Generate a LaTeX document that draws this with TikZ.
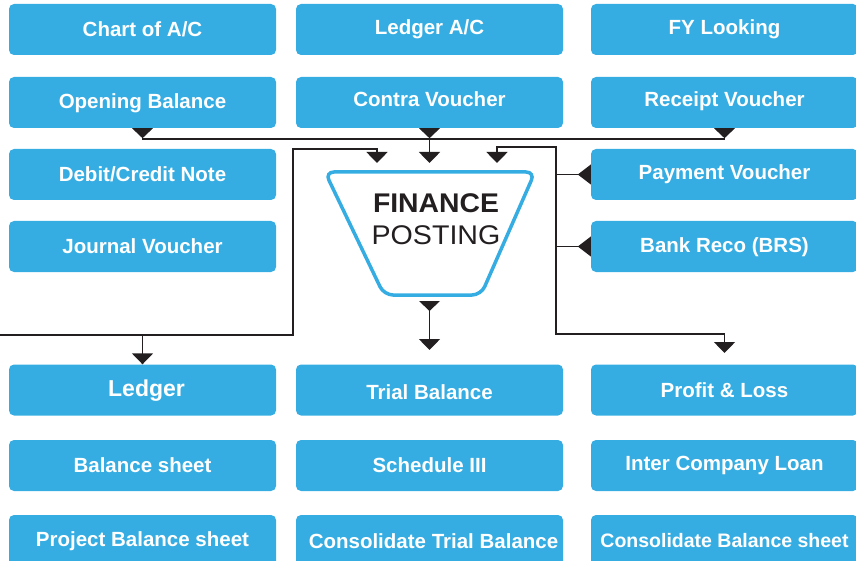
\documentclass[tikz,border=0pt]{standalone}
\usepackage{fontspec}
\setmainfont{Liberation Sans}
\usetikzlibrary{arrows.meta,calc}
\definecolor{boxblue}{RGB}{54,173,226}
\definecolor{linec}{RGB}{35,31,32}
\newcommand\liftby[2]{\raisebox{#1pt}{#2}}
\newcommand\tabdown[1]{\fill[linec] ([xshift=-10.5pt]#1) -- ([xshift=10.5pt]#1) -- ([yshift=-10pt]#1) -- cycle;}
\newcommand\tableft[1]{\fill[linec] ([yshift=10pt]#1) -- ([yshift=-10pt]#1) -- ([xshift=-13pt]#1) -- cycle;}
\begin{document}
\begin{tikzpicture}[x=1pt,y=-1pt,
  box/.style={rectangle, rounded corners=5pt, fill=boxblue, minimum width=267pt,
    minimum height=51pt, inner sep=0pt, text=white,
    font=\bfseries\fontsize{20.5}{24}\selectfont, text height=14.6pt, text depth=0pt},
  conn/.style={draw=linec, line width=1.6pt},
  arr/.style={conn, -{Triangle[width=21pt,length=11pt]}},
  fptext/.style={text=linec, inner sep=0pt, font=\fontsize{27}{30}\selectfont}]
\useasboundingbox (0,0) rectangle (856,561);
% row 1
\node[box] (coa) at (142.5,29.5) {Chart of A/C};
\node[box] (lac) at (429.5,29.5) {\liftby{2}{Ledger A/C}};
\node[box] (fy)  at (724.5,29.5) {\liftby{2}{FY Looking}};
% row 2
\node[box] (ob) at (142.5,102.5) {\liftby{1.5}{Opening Balance}};
\node[box] (cv) at (429.5,102.5) {\liftby{3.5}{Contra Voucher}};
\node[box] (rv) at (724.5,102.5) {\liftby{3}{Receipt Voucher}};
% row 3-4
\node[box] (dcn) at (142.5,174.5) {Debit/Credit Note};
\node[box] (pv)  at (724.5,174.5) {\liftby{2.5}{Payment Voucher}};
\node[box] (jv)  at (142.5,246.5) {Journal Voucher};
\node[box] (br)  at (724.5,246.5) {\liftby{1.5}{Bank Reco (BRS)}};
% row 5
\node[box, font=\bfseries\fontsize{23}{26}\selectfont, text height=16.5pt] (led) at (142.5,390) {\hspace*{8pt}\liftby{2}{Ledger}};
\node[box] (tb) at (429.5,390) {\liftby{-2}{Trial Balance}};
\node[box] (pl) at (724.5,390) {Profit \& Loss};
% row 6
\node[box] (bs)  at (142.5,465.5) {Balance sheet};
\node[box] (s3)  at (429.5,465.5) {Schedule III};
\node[box] (icl) at (724.5,465.5) {\liftby{2}{Inter Company Loan}};
% row 7
\node[box] (pbs) at (142.5,540.5) {\liftby{1.5}{Project Balance sheet}};
\node[box] (ctb) at (429.5,540.5) {\hspace*{8pt}\liftby{-1}{Consolidate Trial Balance}};
\node[box, font=\bfseries\fontsize{19.5}{24}\selectfont] (cbs) at (724.5,540.5) {Consolidate Balance sheet};
% finance posting
\draw[draw=boxblue, line width=3.5pt, rounded corners=9pt]
  (325,172) -- (535,172) -- (481,295) -- (384,295) -- cycle;
\node[fptext, font=\bfseries\fontsize{27}{30}\selectfont] (fin) at (436,203) {\scalebox{1.05}[1]{FINANCE}};
\node[fptext] (post) at (436,235.5) {\scalebox{1.06}[1]{POSTING}};
% coordinates
\coordinate (bus) at (430,139);
\coordinate (inL) at (377,163);
\coordinate (inM) at (429.5,163);
\coordinate (inR) at (497,163);
\coordinate (lstart) at (0,335);
\coordinate (lc1) at (293,335);
\coordinate (lc2) at (293,149);
\coordinate (rc1) at (556,147);
\coordinate (rc2) at (556,334);
\coordinate (plIn) at (724.5,353);
\coordinate (fpB) at (429.5,301);
\coordinate (tbIn) at (429.5,350);
% top bus
\draw[conn] (ob.south) -- (ob.south |- bus) -- (rv.south |- bus) -- (rv.south);
\tabdown{ob.south}
\tabdown{cv.south}
\tabdown{rv.south}
\draw[arr] (cv.south) -- (inM);
% left route
\draw[arr] (lstart) -- (lc1) -- (lc2) -| (inL);
\draw[arr] (lstart -| led.north) -- (led.north);
% right route
\tableft{pv.west}
\tableft{br.west}
\draw[conn] ([xshift=-13pt]pv.west) -- (pv.west -| rc1);
\draw[conn] ([xshift=-13pt]br.west) -- (br.west -| rc1);
\draw[arr] (rc2) -- (rc1) -| (inR);
\draw[arr] (rc1) -- (rc2) -| (plIn);
% finance bottom
\tabdown{fpB}
\draw[arr] (fpB) -- (tbIn);
\end{tikzpicture}
\end{document}
